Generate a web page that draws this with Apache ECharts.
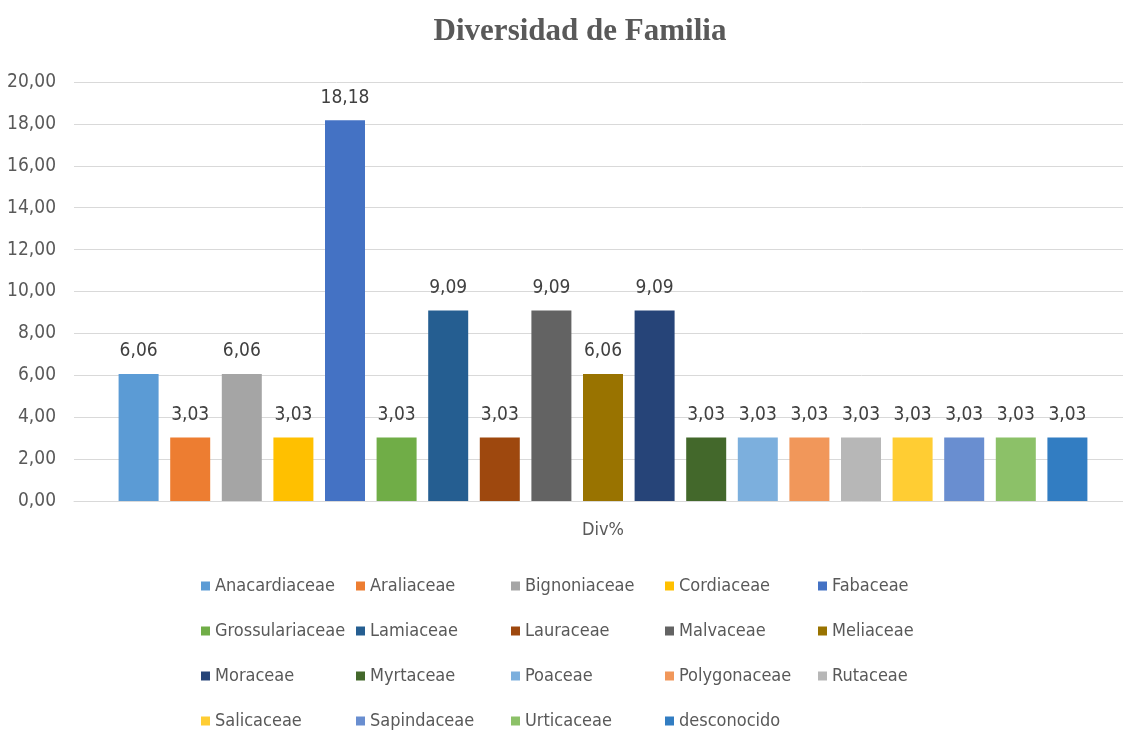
<!DOCTYPE html>
<html>
<head>
<meta charset="utf-8">
<title>Diversidad de Familia</title>
<script src="https://cdn.jsdelivr.net/npm/echarts@6/dist/echarts.min.js"></script>
<style>
    html, body { margin: 0; padding: 0; background: #fff; }
    #main { width: 1123px; height: 731px; }
</style>
</head>
<body>
<div id="main"></div>
<script>
var familias = ['Anacardiaceae', 'Araliaceae', 'Bignoniaceae', 'Cordiaceae', 'Fabaceae',
    'Grossulariaceae', 'Lamiaceae', 'Lauraceae', 'Malvaceae', 'Meliaceae',
    'Moraceae', 'Myrtaceae', 'Poaceae', 'Polygonaceae', 'Rutaceae',
    'Salicaceae', 'Sapindaceae', 'Urticaceae', 'desconocido'];
var divPct = [6.06, 3.03, 6.06, 3.03, 18.18, 3.03, 9.09, 3.03, 9.09, 6.06,
    9.09, 3.03, 3.03, 3.03, 3.03, 3.03, 3.03, 3.03, 3.03];
var categorias = ['Div%'];
var colores = ['#5B9BD5', '#ED7D31', '#A5A5A5', '#FFC000', '#4472C4',
    '#70AD47', '#255E91', '#9E480E', '#636363', '#997300',
    '#264478', '#43682B', '#7CAFDD', '#F1975A', '#B7B7B7',
    '#FFCD33', '#698ED0', '#8CC168', '#327DC2'];

var fuente = '"Liberation Sans Narrow", "DejaVu Sans Condensed", "Liberation Sans", sans-serif';

function coma(v) {
    return Number(v).toFixed(2).replace('.', ',');
}

var chart = echarts.init(document.getElementById('main'));

var series = [];
for (var i = 0; i < familias.length; i++) {
    series.push({
        name: familias[i],
        type: 'bar',
        barWidth: 40,
        barGap: '29%',
        color: colores[i],
        data: [divPct[i]],
        label: {
            show: true,
            position: 'top',
            distance: 13,
            color: '#404040',
            fontFamily: fuente,
            fontSize: 19,
            formatter: function (p) { return coma(p.value); }
        }
    });
}

// leyenda en 5 columnas (una leyenda vertical por columna)
var colX = [196, 351, 506, 660, 813];
var leyendas = [];
for (var c = 0; c < colX.length; c++) {
    var items = [];
    for (var k = c; k < familias.length; k += 5) {
        items.push(familias[k]);
    }
    leyendas.push({
        data: items,
        orient: 'vertical',
        left: colX[c],
        top: 572,
        height: 200,
        itemWidth: 9,
        itemHeight: 9,
        itemGap: 27,
        icon: 'rect',
        textStyle: {
            fontFamily: fuente,
            fontSize: 18,
            color: '#595959'
        }
    });
}

var option = {
    animation: false,
    color: colores,
    title: {
        text: 'Diversidad de Familia',
        left: 575,
        textAlign: 'center',
        top: 11,
        textStyle: {
            fontFamily: '"Liberation Serif", "DejaVu Serif", serif',
            fontWeight: 'bold',
            fontSize: 31,
            color: '#595959'
        }
    },
    grid: {
        left: 74,
        top: 82,
        width: 1058,
        height: 419,
        containLabel: false,
        outerBoundsMode: 'none'
    },
    legend: leyendas,
    xAxis: {
        type: 'category',
        data: categorias,
        axisTick: { show: false },
        axisLine: { lineStyle: { color: '#d9d9d9', width: 1 } },
        axisLabel: {
            color: '#595959',
            fontFamily: fuente,
            fontSize: 18,
            margin: 20
        }
    },
    yAxis: {
        type: 'value',
        min: 0,
        max: 20,
        interval: 2,
        axisLine: { show: false },
        axisTick: { show: false },
        splitLine: { lineStyle: { color: '#d9d9d9', width: 1 } },
        axisLabel: {
            color: '#595959',
            fontFamily: fuente,
            fontSize: 19,
            margin: 18,
            formatter: function (v) { return coma(v); }
        }
    },
    series: series
};

chart.setOption(option);
</script>
</body>
</html>
